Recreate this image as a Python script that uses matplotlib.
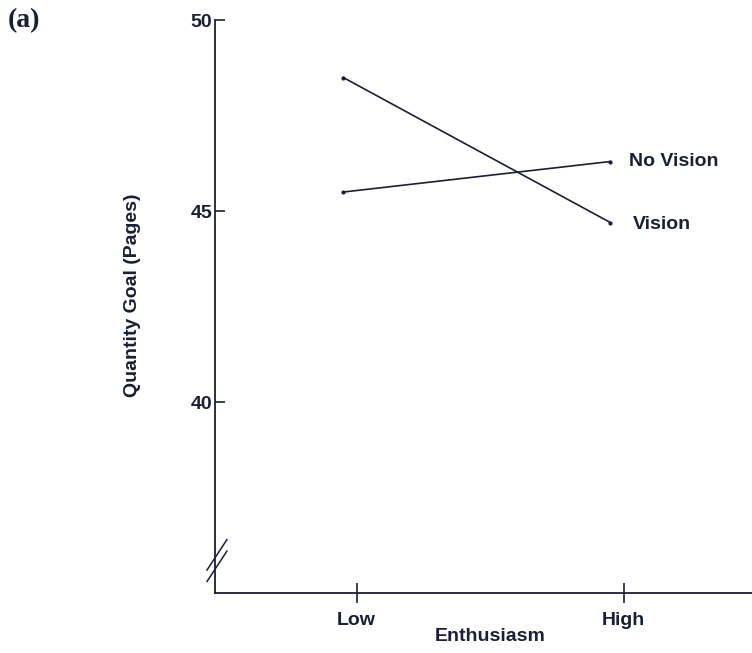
import numpy as np
from matplotlib import pyplot as plt

plt.rcParams['font.family'] = ['Liberation Sans', 'DejaVu Sans']

## Data
enthusiasm = ['Low', 'High']
vision = [48.5, 44.7]
no_vision = [45.5, 46.3]
yticks = [40, 45, 50]
ink = '#1c1f33'
fs = 14

fig = plt.figure(figsize=(7.52, 6.53), dpi=100)
ax = fig.add_axes([0.286, 0.092, 0.714, 0.877])

x = np.arange(len(enthusiasm))
ax.plot(x - 0.05, vision, '-', lw=1.2, color=ink, marker='o', ms=2)
ax.plot(x - 0.05, no_vision, '-', lw=1.2, color=ink, marker='o', ms=2)
ax.text(x[-1] + 0.02, no_vision[-1], 'No Vision', fontsize=fs, fontweight='bold',
        color=ink, va='center')
ax.text(x[-1] + 0.035, vision[-1] - 0.05, 'Vision', fontsize=fs, fontweight='bold',
        color=ink, va='center')

ax.set_xlim(-0.53, 1.48)
ax.set_ylim(35, 50)
ax.set_xticks(x)
ax.set_xticklabels(enthusiasm, fontsize=fs, fontweight='bold', color=ink)
ax.set_yticks(yticks)
ax.set_yticklabels([str(t) for t in yticks], fontsize=fs, fontweight='bold', color=ink)
ax.tick_params(axis='y', direction='in', length=7, width=1.2, color=ink, pad=2)
ax.tick_params(axis='x', direction='inout', length=14, width=1.2, color=ink, pad=7)
for side in ['top', 'right']:
    ax.spines[side].set_visible(False)
for side in ['left', 'bottom']:
    ax.spines[side].set_color(ink)
    ax.spines[side].set_linewidth(1.3)

ax.set_xlabel('Enthusiasm', fontsize=fs, fontweight='bold', color=ink)
ax.xaxis.set_label_coords(0.512, -0.062)
ax.set_ylabel('Quantity Goal (Pages)', fontsize=fs, fontweight='bold', color=ink)
ax.yaxis.set_label_coords(-0.138, 0.52)

# axis break marks
for dy in [0.0, 0.02]:
    ax.plot([-0.015, 0.022], [0.02 + dy, 0.073 + dy], color=ink, lw=1.1,
            transform=ax.transAxes, clip_on=False)

fig.text(0.01, 0.968, '(a)', fontsize=20, fontweight='bold', family='Liberation Serif',
         color=ink, va='center')

fig.savefig('out.png', dpi=100)
